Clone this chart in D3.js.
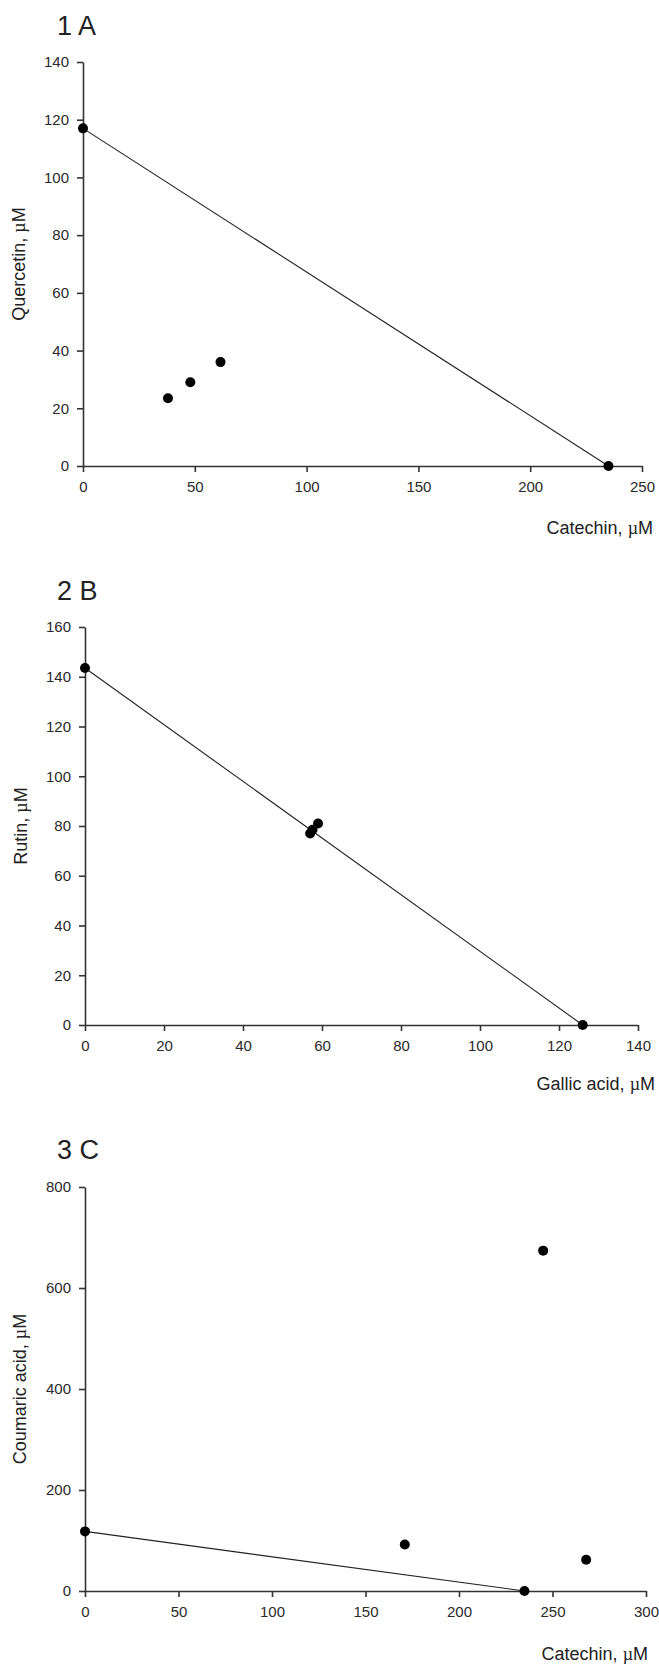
<!DOCTYPE html>
<html>
  <head>
    <meta charset="utf-8">
    <title>Isobolograms</title>
    <script src="https://cdn.jsdelivr.net/npm/d3@7"></script>
    <style>
      body { margin: 0; background: #fff; }
      svg text { font-family: "Liberation Sans", Arial, sans-serif; fill: #222; }
      .axis path, .axis line { stroke: #333; stroke-width: 1.6; }
      .axis text { font-size: 15px; fill: #2a2a2a; }
    </style>
  </head>
  <body>
    <svg id="chart"></svg>
    <script>
// panel texts
const panelTitles = ['1 A', '2 B', '3 C'];
const xLabels = ['Catechin', 'Gallic acid', 'Catechin'];
const yLabels = ['Quercetin', 'Rutin', 'Coumaric acid'];

// axis ranges and tick steps
const xMax = [250, 140, 300];
const yMax = [140, 160, 800];
const xStep = [50, 20, 50];
const yStep = [20, 20, 200];

// measured points (x, y) per panel
const pointsA_x = [0, 235, 38, 48, 61.5];
const pointsA_y = [117, 0, 23.5, 29, 36];
const pointsB_x = [0, 126, 57, 57.6, 59];
const pointsB_y = [143.5, 0, 77, 78.5, 81];
const pointsC_x = [0, 235, 171, 268, 245];
const pointsC_y = [118, 0, 92, 62, 674];

// additivity line end points
const lineA = [[0, 117], [235, 0]];
const lineB = [[0, 143.5], [126, 0]];
const lineC = [[0, 118], [235, 0]];

const allX = [pointsA_x, pointsB_x, pointsC_x];
const allY = [pointsA_y, pointsB_y, pointsC_y];
const allLines = [lineA, lineB, lineC];

// pixel frames of the three plots
const frames = [
  {left: 83, right: 642, top: 62, bottom: 466, titleY: 35, xLabelX: 653, xLabelY: 534, yLabelX: 19},
  {left: 85, right: 638, top: 627, bottom: 1025, titleY: 600, xLabelX: 655, xLabelY: 1090, yLabelX: 21},
  {left: 85, right: 646, top: 1187, bottom: 1591, titleY: 1159, xLabelX: 648, xLabelY: 1660, yLabelX: 20}
];

const svg = d3.select('#chart')
  .attr('width', 659)
  .attr('height', 1664);

function addLabel(sel, name) {
  sel.append('tspan').text(name + ', ');
  sel.append('tspan')
    .style('font-family', '"Liberation Serif", "Times New Roman", serif')
    .text('\u00b5');
  sel.append('tspan').text('M');
}

frames.forEach(function(f, i) {
  let x = d3.scaleLinear().domain([0, xMax[i]]).range([f.left, f.right]);
  let y = d3.scaleLinear().domain([0, yMax[i]]).range([f.bottom, f.top]);

  let g = svg.append('g');

  g.append('text')
    .attr('x', 57)
    .attr('y', f.titleY)
    .style('font-size', '27px')
    .text(panelTitles[i]);

  g.append('g')
    .attr('class', 'axis')
    .attr('transform', 'translate(0,' + f.bottom + ')')
    .call(d3.axisBottom(x)
      .tickValues(d3.range(0, xMax[i] + 1, xStep[i]))
      .tickSize(6).tickSizeOuter(0).tickPadding(9));

  g.append('g')
    .attr('class', 'axis')
    .attr('transform', 'translate(' + f.left + ',0)')
    .call(d3.axisLeft(y)
      .tickValues(d3.range(0, yMax[i] + 1, yStep[i]))
      .tickSize(6).tickSizeOuter(0).tickPadding(8));

  // x label
  let xl = g.append('text')
    .attr('x', f.xLabelX)
    .attr('y', f.xLabelY)
    .attr('text-anchor', 'end')
    .style('font-size', '18px');
  addLabel(xl, xLabels[i]);

  // y label
  let yl = g.append('text')
    .attr('transform', 'translate(' + f.yLabelX + ',' + ((f.top + f.bottom) / 2) + ') rotate(-90)')
    .attr('text-anchor', 'middle')
    .attr('dy', '0.35em')
    .style('font-size', '18px');
  addLabel(yl, yLabels[i]);

  // additivity line
  g.append('path')
    .datum(allLines[i])
    .attr('d', d3.line().x(d => x(d[0])).y(d => y(d[1])))
    .attr('fill', 'none')
    .attr('stroke', '#222')
    .attr('stroke-width', 1.1);

  // points
  g.selectAll('circle.pt')
    .data(allX[i].map((v, j) => [v, allY[i][j]]))
    .enter()
    .append('circle')
    .attr('class', 'pt')
    .attr('cx', d => x(d[0]))
    .attr('cy', d => y(d[1]))
    .attr('r', 5)
    .attr('fill', '#000');
});
    </script>
  </body>
</html>
